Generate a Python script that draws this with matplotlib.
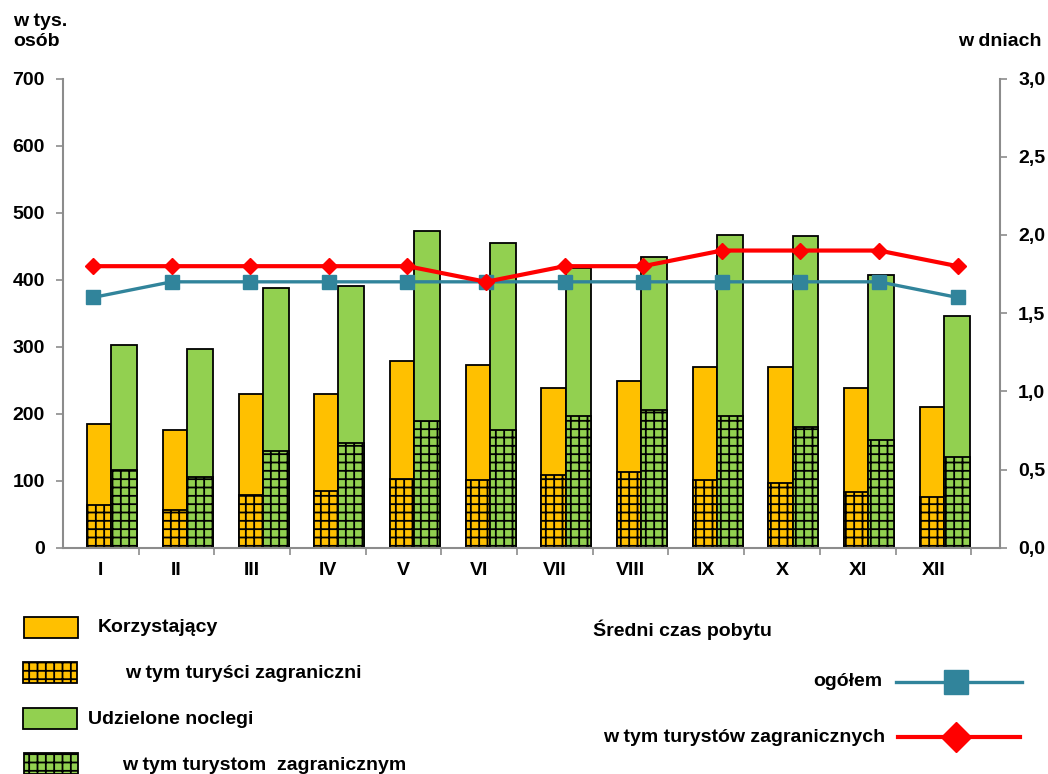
import matplotlib.pyplot as plt
from matplotlib.patches import Rectangle
from matplotlib.lines import Line2D
from matplotlib.ticker import FuncFormatter
import numpy as np

months = ['I', 'II', 'III', 'IV', 'V', 'VI', 'VII', 'VIII', 'IX', 'X', 'XI', 'XII']
korzystajacy = [185, 175, 229, 229, 279, 273, 239, 248, 270, 270, 239, 210]
korz_zagr = [64, 56, 78, 84, 103, 101, 108, 113, 101, 97, 83, 75]
noclegi = [303, 296, 388, 390, 472, 455, 417, 433, 467, 465, 407, 345]
nocl_zagr = [116, 106, 145, 156, 189, 176, 197, 206, 197, 180, 160, 135]
czas_ogolem = [1.6, 1.7, 1.7, 1.7, 1.7, 1.7, 1.7, 1.7, 1.7, 1.7, 1.7, 1.6]
czas_zagr = [1.8, 1.8, 1.8, 1.8, 1.8, 1.7, 1.8, 1.8, 1.9, 1.9, 1.9, 1.8]

ORANGE = '#FFC000'
GREEN = '#92D050'
TEAL = '#31849B'
RED = '#FF0000'
AXC = '#8C8C8C'
FS = 14

plt.rcParams['font.family'] = ['Liberation Sans', 'DejaVu Sans']
plt.rcParams['font.weight'] = 'bold'
plt.rcParams['hatch.linewidth'] = 1.3

W, H = 1048, 774
fig = plt.figure(figsize=(W / 100, H / 100), dpi=100)
rect = [63 / W, 1 - 547.7 / H, (1000 - 63) / W, (547.7 - 78.5) / H]
ax = fig.add_axes(rect)

x = np.arange(len(months))
bw1, bw2 = 0.32, 0.34
off1, off2 = -0.02, 0.31
ax.bar(x + off1, korzystajacy, bw1, color=ORANGE, edgecolor='black', linewidth=1.3)
ax.bar(x + off1, korz_zagr, bw1, color=ORANGE, edgecolor='black', linewidth=1.3, hatch='++')
ax.bar(x + off2, noclegi, bw2, color=GREEN, edgecolor='black', linewidth=1.3)
ax.bar(x + off2, nocl_zagr, bw2, color=GREEN, edgecolor='black', linewidth=1.3, hatch='++')

ax.set_xlim(-0.5, 11.88)
ax.set_ylim(0, 700)
ax.set_yticks(range(0, 701, 100))
ax.set_xticks(x)
ax.set_xticklabels(months)
ax.set_xticks(np.arange(0.5, 12, 1), minor=True)
ax.tick_params(axis='x', which='major', length=0, pad=10, labelsize=FS)
ax.tick_params(axis='x', which='minor', length=5, color=AXC, width=1.2)
ax.tick_params(axis='y', length=5, color=AXC, width=1.2, labelsize=FS, pad=8)
for s in ['top', 'right']:
    ax.spines[s].set_visible(False)
for s in ['left', 'bottom']:
    ax.spines[s].set_color(AXC)
    ax.spines[s].set_linewidth(1.5)

# line series on their own category scale (secondary axes)
ax2 = fig.add_axes(rect, facecolor='none')
ax2.plot(x, czas_ogolem, color=TEAL, lw=2.4, marker='s', ms=10.5, mec=TEAL, zorder=3)
ax2.plot(x, czas_zagr, color=RED, lw=3.0, marker='D', ms=8.5, mec=RED, zorder=4)
ax2.set_xlim(-0.382, 11.54)
ax2.set_ylim(0, 3.0)
ax2.set_yticks(np.arange(0, 3.01, 0.5))
ax2.yaxis.set_major_formatter(FuncFormatter(lambda v, p: f'{v:.1f}'.replace('.', ',')))
ax2.yaxis.tick_right()
ax2.xaxis.set_visible(False)
ax2.tick_params(axis='y', length=5, color=AXC, width=1.2, labelsize=FS, pad=8)
for s in ['top', 'left', 'bottom']:
    ax2.spines[s].set_visible(False)
ax2.spines['right'].set_color(AXC)
ax2.spines['right'].set_linewidth(1.5)

fig.text(13 / W, 1 - 22 / H, 'w tys.', ha='left', va='center', fontsize=FS)
fig.text(13 / W, 1 - 41 / H, 'osób', ha='left', va='center', fontsize=FS)
fig.text(1042 / W, 1 - 41 / H, 'w dniach', ha='right', va='center', fontsize=FS)

# legend drawn by hand
def fx(px):
    return px / W

def fy(py):
    return 1 - py / H

boxes = [
    (24, 617, ORANGE, None, 'Korzystający', 98, 628),
    (23, 662, ORANGE, '++', 'w tym turyści zagraniczni', 125, 674),
    (23, 708, GREEN, None, 'Udzielone noclegi', 88, 719),
    (24, 753, GREEN, '++', 'w tym turystom  zagranicznym', 122, 765),
]
for bx, by, col, hat, label, tx, ty in boxes:
    fig.patches.append(Rectangle((fx(bx), fy(by + 21)), 54 / W, 21 / H, transform=fig.transFigure,
                                 facecolor=col, edgecolor='black', linewidth=1.3, hatch=hat))
    fig.text(fx(tx), fy(ty), label, ha='left', va='center', fontsize=FS)

fig.text(fx(593), fy(630), 'Średni czas pobytu', ha='left', va='center', fontsize=FS)
fig.text(fx(882), fy(682), 'ogółem', ha='right', va='center', fontsize=FS)
fig.text(fx(885), fy(737), 'w tym turystów zagranicznych', ha='right', va='center', fontsize=FS)
fig.lines.append(Line2D([fx(896), fx(1022)], [fy(682), fy(682)], transform=fig.transFigure,
                        color=TEAL, lw=2.4))
fig.lines.append(Line2D([fx(956)], [fy(682)], transform=fig.transFigure, color=TEAL,
                        marker='s', ms=17, mec=TEAL, ls='none'))
fig.lines.append(Line2D([fx(898), fx(1020)], [fy(737), fy(737)], transform=fig.transFigure,
                        color=RED, lw=3.0))
fig.lines.append(Line2D([fx(956)], [fy(737)], transform=fig.transFigure, color=RED,
                        marker='D', ms=15, mec=RED, ls='none'))

fig.savefig('out.png', dpi=100)
